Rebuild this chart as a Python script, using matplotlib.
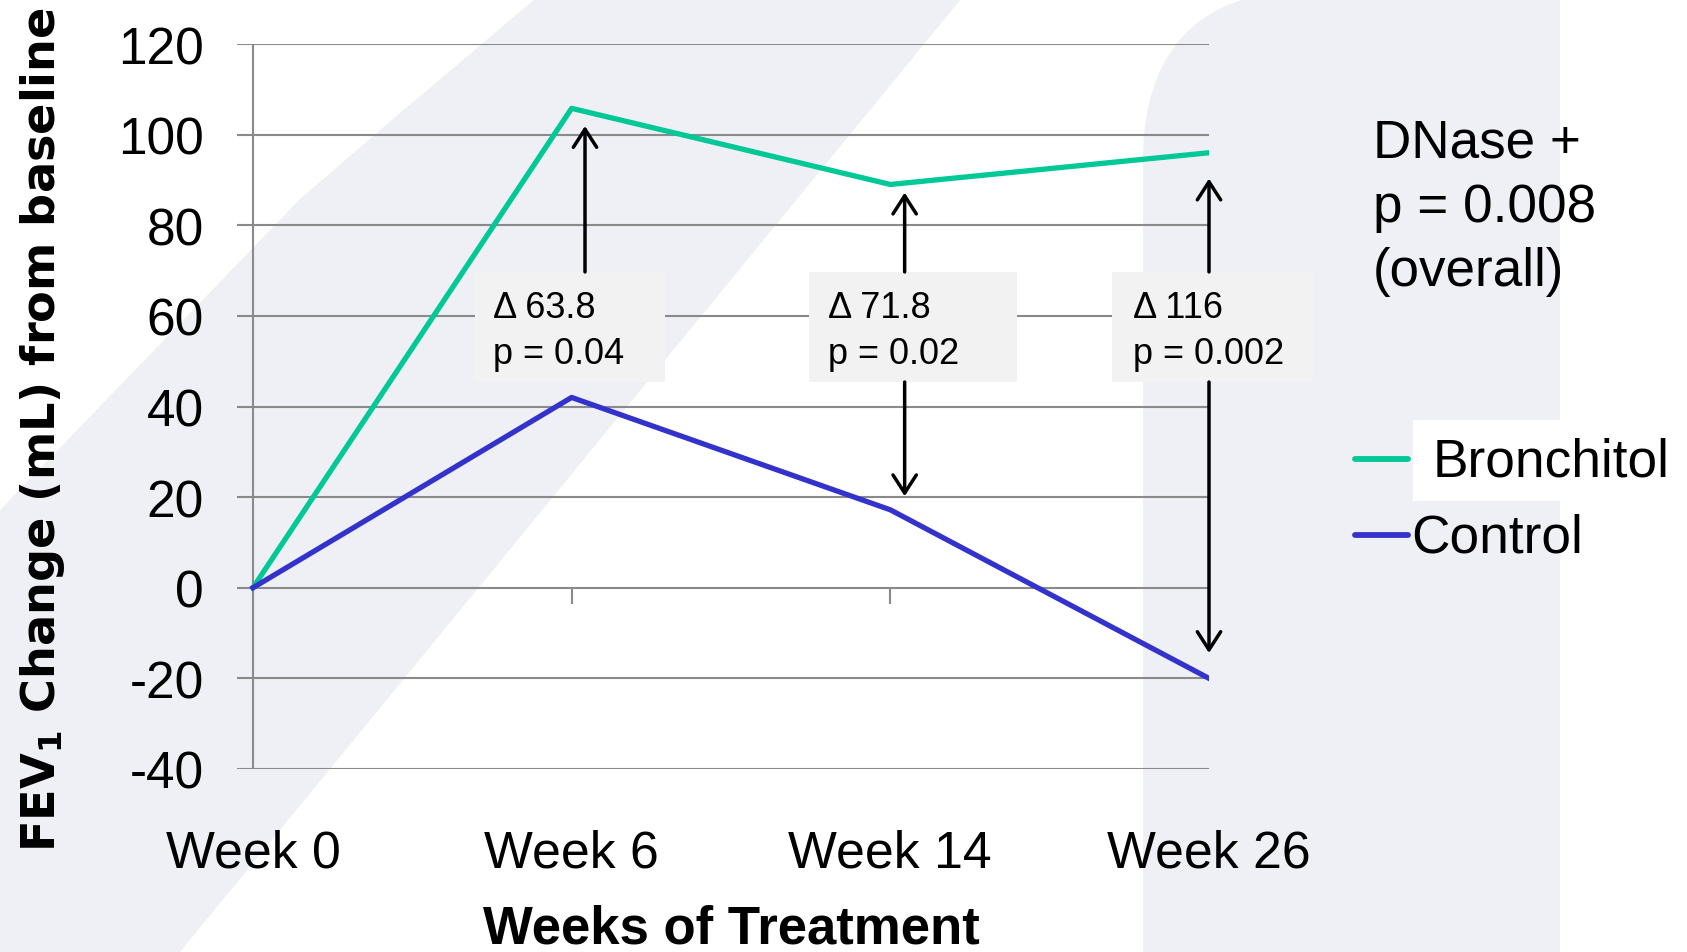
import matplotlib
matplotlib.use("Agg")
import matplotlib.pyplot as plt
from matplotlib.patches import Rectangle, Polygon, PathPatch
from matplotlib.path import Path
from matplotlib.lines import Line2D

# ---------------- data ----------------
weeks = ["Week 0", "Week 6", "Week 14", "Week 26"]
bronchitol = [0, 105.8, 89.0, 96.0]
control = [0, 42.0, 17.2, -20.0]
yticks = [-40, -20, 0, 20, 40, 60, 80, 100, 120]
delta_labels = ["\u0394 63.8", "\u0394 71.8", "\u0394 116"]
p_labels = ["p = 0.04", "p = 0.02", "p = 0.002"]
series_names = ["Bronchitol", "Control"]
overall_lines = ["DNase +", "p = 0.008", "(overall)"]

# ---------------- style ----------------
plt.rcParams['font.family'] = ['Liberation Sans', 'DejaVu Sans']
plt.rcParams['mathtext.fontset'] = 'dejavusans'
GREEN = "#00c896"
BLUE = "#3333cc"
GRID = "#8a8a8a"
LAV = "#efeff6"
BOXC = "#f2f2f2"

W, H = 1687, 953
fig = plt.figure(figsize=(W / 100, H / 100), dpi=100, facecolor="white")

# background decoration axes in pixel coordinates
bg = fig.add_axes([0, 0, 1, 1])
bg.set_xlim(0, W)
bg.set_ylim(H, 0)
bg.axis("off")
bg.set_zorder(0)

band = Polygon([(535, 0), (961, 0), (180, H), (0, H), (0, 511), (300, 200), (393, 120)],
               closed=True, facecolor=LAV, edgecolor="none")
bg.add_patch(band)
verts = [(1143, H), (1143, 160), (1143, 80), (1175, 20), (1245, 0), (1245, -5),
         (1560, -5), (1560, H), (1143, H)]
codes = [Path.MOVETO, Path.LINETO, Path.CURVE4, Path.CURVE4, Path.CURVE4, Path.LINETO,
         Path.LINETO, Path.LINETO, Path.CLOSEPOLY]
bg.add_patch(PathPatch(Path(verts, codes), facecolor=LAV, edgecolor="none"))

# legend (manual)
bg.add_patch(Rectangle((1413, 421), W - 1413, 81, facecolor="white", edgecolor="none"))
bg.add_line(Line2D([1355, 1408], [460, 460], color=GREEN, lw=4.2, solid_capstyle="round"))
bg.add_line(Line2D([1355, 1408], [536, 536], color=BLUE, lw=4.2, solid_capstyle="round"))
bg.text(1433, 477, series_names[0], fontsize=38.3, va="baseline", ha="left")
bg.text(1411, 553, series_names[1], fontsize=38.3, va="baseline", ha="left")

# overall text
for i, line in enumerate(overall_lines):
    bg.text(1373, 158 + 64 * i, line, fontsize=38.2, va="baseline", ha="left")

# ---------------- main axes ----------------
left, right, top, bottom = 237, 1209, 45, 770
ax = fig.add_axes([left / W, (H - bottom) / H, (right - left) / W, (bottom - top) / H])
ax.set_zorder(1)
ax.patch.set_alpha(0)
ax.set_xlim(-0.05, 3)
ax.set_ylim(-40, 120)
for s in ax.spines.values():
    s.set_visible(False)

for v in yticks:
    ax.axhline(v, color=GRID, lw=1.5, zorder=1)
ax.axvline(0, color=GRID, lw=1.5, zorder=1)

ax.set_yticks(yticks)
ax.set_yticklabels([str(v) for v in yticks])
ax.tick_params(axis="y", length=0, pad=24, labelsize=37)
ax.set_xticks(range(len(weeks)))
ax.set_xticklabels(weeks)
ax.tick_params(axis="x", length=0, pad=43, labelsize=37.3)

sec = ax.secondary_xaxis(0.25)
sec.set_xticks([1, 2])
sec.set_xticklabels(["", ""])
sec.tick_params(length=11.5, width=1.5, color=GRID, direction="out")
for s in sec.spines.values():
    s.set_visible(False)

x = list(range(len(weeks)))
ax.plot(x, bronchitol, color=GREEN, lw=3.8, zorder=3, label=series_names[0])
ax.plot(x, control, color=BLUE, lw=3.8, zorder=3, label=series_names[1])

# annotation boxes
box_y0, box_y1 = 45.4, 69.7
boxes = [(0.697, 1.293), (1.745, 2.397), (2.695, 3.326)]
text_x = [0.753, 1.804, 2.761]
for (bx0, bx1), tx, d, p in zip(boxes, text_x, delta_labels, p_labels):
    ax.add_patch(Rectangle((bx0, box_y0), bx1 - bx0, box_y1 - box_y0, facecolor=BOXC,
                           edgecolor="none", zorder=4, clip_on=False))
    ax.text(tx, 59.75, d, fontsize=26, va="baseline", ha="left", zorder=5, clip_on=False)
    ax.text(tx, 49.6, p, fontsize=26, va="baseline", ha="left", zorder=5, clip_on=False)

arrow_x = [1.042, 2.045, 3.0]
up_tips = [101.9, 87.2, 90.3]
down_tips = [None, 20.2, -14.4]
aprops = dict(arrowstyle="->,head_length=0.65,head_width=0.42", lw=2.5, color="black",
              shrinkA=0, shrinkB=0, mutation_scale=20)
for axx, ut, dt in zip(arrow_x, up_tips, down_tips):
    ax.annotate("", xy=(axx, ut), xytext=(axx, box_y1), arrowprops=aprops,
                zorder=5, annotation_clip=False)
    if dt is not None:
        ax.annotate("", xy=(axx, dt), xytext=(axx, box_y0), arrowprops=aprops,
                    zorder=5, annotation_clip=False)

# axis titles
fig.text(43 / W, 1 - 430 / H, r"FEV$_{\mathbf{1}}$ Change (mL) from baseline",
         rotation=90, ha="center", va="center", fontsize=33.3, fontweight="bold",
         family="DejaVu Sans")
fig.text(731 / W, 1 - 944 / H, "Weeks of Treatment", ha="center", va="baseline",
         fontsize=38, fontweight="bold")

fig.savefig("out.png", dpi=100, facecolor="white")
